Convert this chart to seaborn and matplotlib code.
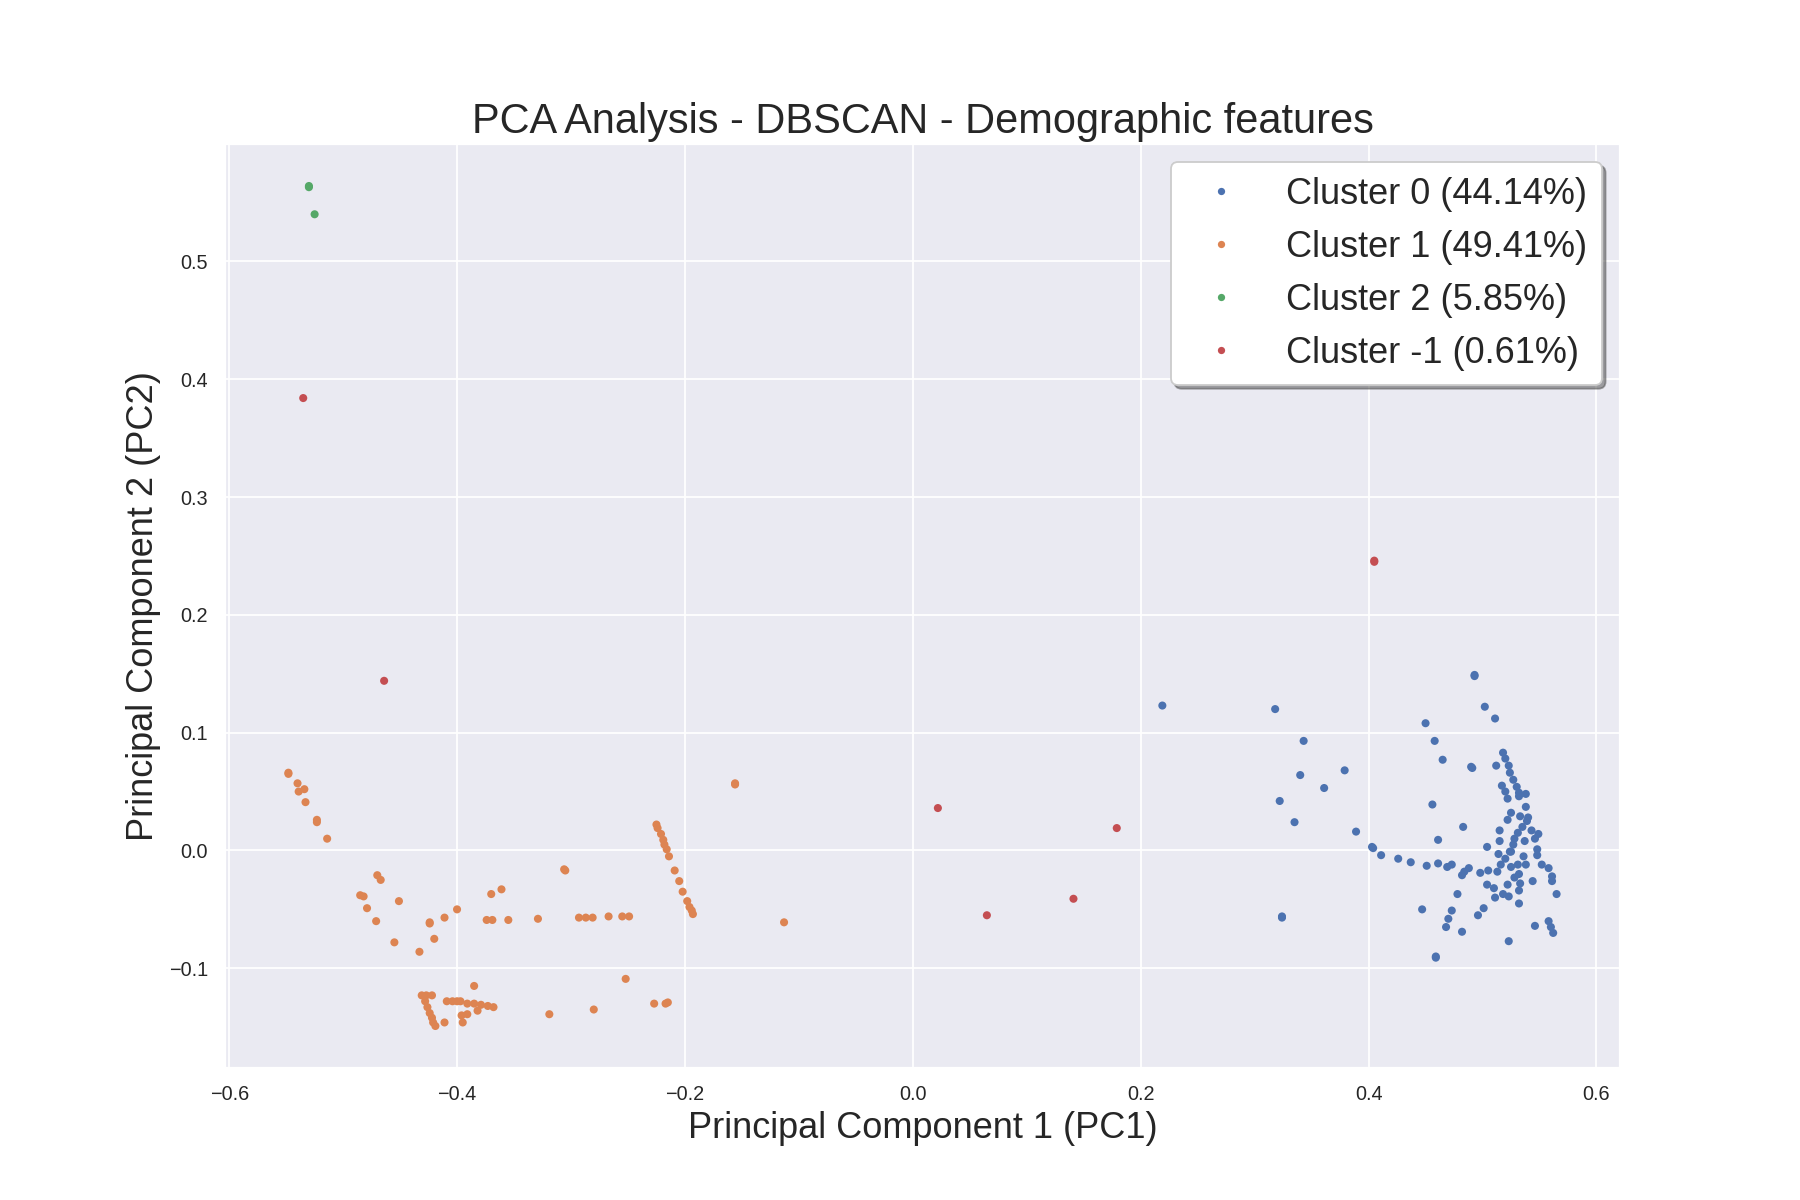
import matplotlib
matplotlib.use("Agg")
import matplotlib.pyplot as plt
import seaborn as sns
import pandas as pd

# ---- data ----
cluster0_x = [0.219, 0.318, 0.343, 0.379, 0.340, 0.361, 0.322, 0.335, 0.389, 0.403, 0.404, 0.411, 0.426,
              0.324, 0.324, 0.437, 0.451, 0.469, 0.447, 0.450, 0.493, 0.493, 0.502, 0.511,
              0.458, 0.465, 0.490, 0.491, 0.512, 0.518, 0.520, 0.523, 0.524, 0.527, 0.530, 0.532,
              0.517, 0.520, 0.522, 0.538, 0.532, 0.538, 0.456, 0.525, 0.522, 0.533, 0.540,
              0.539, 0.535, 0.531, 0.528, 0.543, 0.546, 0.549, 0.515, 0.515, 0.483, 0.461, 0.504,
              0.527, 0.537, 0.525, 0.514, 0.548, 0.548, 0.536, 0.524, 0.520, 0.516, 0.513,
              0.461, 0.473, 0.488, 0.484, 0.482, 0.498, 0.505, 0.525, 0.531, 0.538, 0.552, 0.558,
              0.532, 0.528, 0.561, 0.561, 0.544, 0.522, 0.504, 0.510, 0.533, 0.532, 0.478,
              0.518, 0.523, 0.511, 0.565, 0.532, 0.501, 0.496, 0.473, 0.470, 0.468, 0.482,
              0.523, 0.546, 0.558, 0.560, 0.562, 0.459, 0.459]
cluster0_y = [0.123, 0.120, 0.093, 0.068, 0.064, 0.053, 0.042, 0.024, 0.016, 0.003, 0.002, -0.004, -0.007,
              -0.056, -0.057, -0.010, -0.013, -0.014, -0.050, 0.108, 0.149, 0.148, 0.122, 0.112,
              0.093, 0.077, 0.071, 0.070, 0.072, 0.083, 0.078, 0.072, 0.066, 0.060, 0.054, 0.049,
              0.055, 0.050, 0.044, 0.048, 0.046, 0.037, 0.039, 0.032, 0.026, 0.029, 0.028,
              0.025, 0.020, 0.015, 0.010, 0.017, 0.010, 0.014, 0.017, 0.008, 0.020, 0.009, 0.003,
              0.005, 0.008, -0.001, -0.003, 0.001, -0.004, -0.005, -0.001, -0.007, -0.012, -0.018,
              -0.011, -0.012, -0.015, -0.018, -0.021, -0.019, -0.017, -0.014, -0.012, -0.012, -0.012, -0.015,
              -0.020, -0.023, -0.022, -0.026, -0.026, -0.029, -0.029, -0.032, -0.028, -0.034, -0.037,
              -0.037, -0.039, -0.040, -0.037, -0.045, -0.049, -0.055, -0.051, -0.058, -0.065, -0.069,
              -0.077, -0.064, -0.060, -0.065, -0.070, -0.090, -0.091]

cluster1_x = [-0.548, -0.548, -0.540, -0.539, -0.534, -0.533, -0.523, -0.523, -0.514,
              -0.470, -0.467, -0.485, -0.482, -0.479, -0.451, -0.370, -0.361, -0.400,
              -0.471, -0.455, -0.433, -0.424, -0.424, -0.420, -0.411, -0.374, -0.369, -0.355,
              -0.329, -0.306, -0.305, -0.293, -0.287, -0.281, -0.267, -0.255, -0.249, -0.252,
              -0.227, -0.217, -0.215, -0.280, -0.319, -0.156, -0.156, -0.113,
              -0.225, -0.224, -0.221, -0.219, -0.218, -0.216, -0.214, -0.209, -0.205, -0.202,
              -0.198, -0.196, -0.194, -0.193,
              -0.431, -0.427, -0.422, -0.428, -0.426, -0.424, -0.422, -0.421, -0.419, -0.411,
              -0.409, -0.404, -0.400, -0.397, -0.385, -0.391, -0.385, -0.379, -0.373, -0.368,
              -0.382, -0.396, -0.391, -0.395]
cluster1_y = [0.066, 0.065, 0.057, 0.050, 0.052, 0.041, 0.026, 0.024, 0.010,
              -0.021, -0.025, -0.038, -0.039, -0.049, -0.043, -0.037, -0.033, -0.050,
              -0.060, -0.078, -0.086, -0.061, -0.062, -0.075, -0.057, -0.059, -0.059, -0.059,
              -0.058, -0.016, -0.017, -0.057, -0.057, -0.057, -0.056, -0.056, -0.056, -0.109,
              -0.130, -0.130, -0.129, -0.135, -0.139, 0.056, 0.057, -0.061,
              0.022, 0.019, 0.014, 0.009, 0.005, 0.001, -0.005, -0.017, -0.026, -0.035,
              -0.043, -0.048, -0.051, -0.054,
              -0.123, -0.123, -0.123, -0.128, -0.133, -0.138, -0.142, -0.146, -0.149, -0.146,
              -0.128, -0.128, -0.128, -0.128, -0.115, -0.130, -0.130, -0.131, -0.132, -0.133,
              -0.136, -0.140, -0.139, -0.146]

cluster2_x = [-0.530, -0.530, -0.525]
cluster2_y = [0.564, 0.563, 0.540]

noise_x = [-0.535, -0.464, 0.405, 0.405, 0.022, 0.179, 0.065, 0.141]
noise_y = [0.384, 0.144, 0.246, 0.245, 0.036, 0.019, -0.055, -0.041]

cluster_names = ["Cluster 0 (44.14%)", "Cluster 1 (49.41%)",
                 "Cluster 2 (5.85%)", "Cluster -1 (0.61%)"]

# ---- build table ----
frames = []
for name, xs, ys in zip(cluster_names,
                        [cluster0_x, cluster1_x, cluster2_x, noise_x],
                        [cluster0_y, cluster1_y, cluster2_y, noise_y]):
    frames.append(pd.DataFrame({"PC1": xs, "PC2": ys, "Cluster": name}))
df = pd.concat(frames, ignore_index=True)

sns.set_theme(style="darkgrid")
plt.rcParams["font.family"] = ["Liberation Sans", "DejaVu Sans"]

DPI = 130
fig, ax = plt.subplots(figsize=(1800 / DPI, 1200 / DPI), dpi=DPI)
palette = sns.color_palette("deep")[:4]
sns.scatterplot(data=df, x="PC1", y="PC2", hue="Cluster", hue_order=cluster_names,
                palette=palette, s=20, linewidth=0, ax=ax)

ax.set_title("PCA Analysis - DBSCAN - Demographic features", fontsize=23)
ax.set_xlabel("Principal Component 1 (PC1)", fontsize=20)
ax.set_ylabel("Principal Component 2 (PC2)", fontsize=20)
ax.tick_params(labelsize=11)

leg = ax.legend(loc="upper right", fontsize=20, shadow=True, frameon=True,
                facecolor="white", framealpha=1, edgecolor="0.8", markerscale=0.9)

fig.savefig("out.png", dpi=DPI)
